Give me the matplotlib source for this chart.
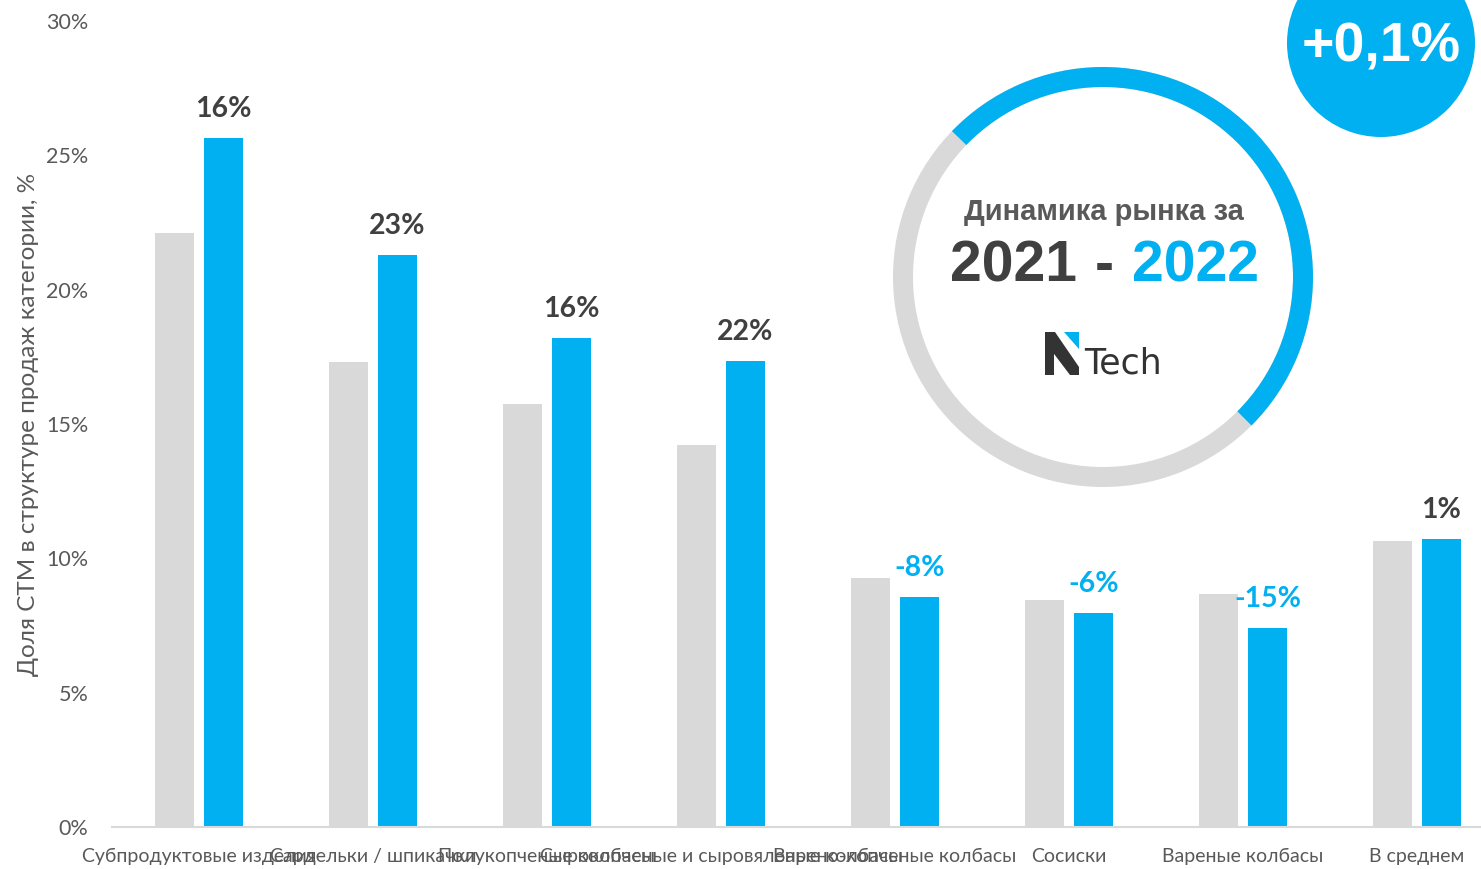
import matplotlib
matplotlib.use("Agg")
import matplotlib.pyplot as plt
from matplotlib.patches import Wedge, Circle, Polygon, Rectangle
from matplotlib.ticker import FuncFormatter
import numpy as np

plt.rcParams['font.family'] = ['Lato', 'DejaVu Sans']

categories = [
    "Субпродуктовые изделия",
    "Сардельки / шпикачки",
    "Полукопченые колбасы",
    "Сырокопченые и сыровяленые колбасы",
    "Варено-копченые колбасы",
    "Сосиски",
    "Вареные колбасы",
    "В среднем",
]
share_2021 = [22.1, 17.3, 15.75, 14.2, 9.27, 8.45, 8.68, 10.65]
share_2022 = [25.65, 21.3, 18.2, 17.35, 8.55, 7.95, 7.42, 10.72]
change_pct = [round((b / a - 1) * 100) for a, b in zip(share_2021, share_2022)]
y_ticks = [0, 5, 10, 15, 20, 25, 30]

BLUE = "#00B0F0"
GRAY = "#D9D9D9"
TEXT = "#595959"
DARK = "#404040"

W, H = 1481, 869
fig = plt.figure(figsize=(W / 100, H / 100), dpi=100)
fig.patch.set_facecolor("white")

# main bar chart; its right edge runs past the figure border
ax = fig.add_axes([112 / W, 42 / H, 1392 / W, 806 / H])
x = np.arange(len(categories))
bw = 0.224
off = 0.141
ax.bar(x - off, share_2021, bw, color=GRAY, zorder=2)
ax.bar(x + off, share_2022, bw, color=BLUE, zorder=2)

for xi, v, c in zip(x, share_2022, change_pct):
    col = DARK if c >= 0 else BLUE
    ax.text(xi + off, v + 0.6, f"{c}%", ha="center", va="bottom",
            fontsize=20.5, fontweight="bold", color=col)

ax.set_xlim(-0.5, len(categories) - 0.5)
ax.set_ylim(0, 30)
ax.set_yticks(y_ticks)
ax.yaxis.set_major_formatter(FuncFormatter(lambda v, p: f"{v:.0f}%"))
ax.set_xticks(x)
ax.set_xticklabels(categories)
ax.tick_params(axis="y", length=0, pad=17, labelsize=15.5, labelcolor=TEXT)
ax.tick_params(axis="x", length=0, pad=15, labelsize=14, labelcolor=TEXT)
for s in ["top", "right", "left"]:
    ax.spines[s].set_visible(False)
ax.spines["bottom"].set_color(GRAY)
ax.spines["bottom"].set_linewidth(1.5)
ax.set_ylabel("Доля СТМ в структуре продаж категории, %", fontsize=17.5,
              color=TEXT)
ax.yaxis.set_label_coords(-73 / 1392, 0.5)

# overlay in pixel units for the badge and the ring
ov = fig.add_axes([0, 0, 1, 1], facecolor="none")
ov.set_xlim(0, W)
ov.set_ylim(0, H)
ov.axis("off")

def py(y):
    return H - y

cx, cy, r = 1103, py(277), 210
ov.add_patch(Wedge((cx, cy), r, 0, 360, width=20, facecolor=GRAY, edgecolor="none"))
ov.add_patch(Wedge((cx, cy), r, -45, 136, width=20, facecolor=BLUE, edgecolor="none"))

ov.text(1104, py(212), "Динамика рынка за", ha="center", va="center",
        fontsize=21, fontweight="bold", color=TEXT, family="Liberation Sans")
ov.text(1013, py(267), "2021", ha="center", va="center", fontsize=41,
        fontweight="bold", color=DARK, family="Liberation Sans")
ov.text(1104, py(267), "-", ha="center", va="center", fontsize=41,
        fontweight="bold", color=DARK, family="Liberation Sans")
ov.text(1195, py(267), "2022", ha="center", va="center", fontsize=41,
        fontweight="bold", color=BLUE, family="Liberation Sans")

# logo mark
LOGO = "#333333"
ov.add_patch(Rectangle((1045, py(375)), 9, 43, facecolor=LOGO, edgecolor="none"))
ov.add_patch(Polygon([(1045, py(332)), (1055, py(332)), (1079, py(367)),
                      (1079, py(375)), (1070, py(375)), (1045, py(342))],
                     closed=True, facecolor=LOGO, edgecolor="none"))
ov.add_patch(Polygon([(1064, py(332)), (1079, py(332)), (1079, py(349))],
                     closed=True, facecolor=BLUE, edgecolor="none"))
ov.text(1084, py(364), "Tech", ha="left", va="center", fontsize=25,
        color=LOGO, family="DejaVu Sans")

# total change badge
ov.add_patch(Circle((1381, py(43)), 94, facecolor=BLUE, edgecolor="none"))
ov.text(1381, py(48), "+0,1%", ha="center", va="center", fontsize=40,
        fontweight="bold", color="white", family="Liberation Sans")

fig.savefig("out.png", dpi=100)
